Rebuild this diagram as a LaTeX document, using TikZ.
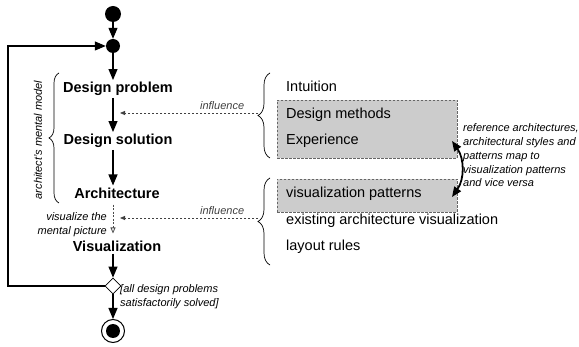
\documentclass[tikz,border=0pt]{standalone}
\usepackage{fontspec}
\setmainfont{Liberation Sans}
\usetikzlibrary{shapes,arrows,arrows.meta,positioning,fit,calc,decorations.pathreplacing}

\tikzset{
  dot/.style={circle, fill=black, inner sep=0pt, minimum size=#1},
  act/.style={font=\fontsize{14.5}{17}\selectfont\bfseries, inner sep=2pt},
  item/.style={font=\fontsize{14.5}{17}\selectfont, anchor=west, inner sep=0pt, text height=10.5pt, text depth=3pt},
  note/.style={font=\fontsize{11}{13.75}\selectfont\itshape, inner sep=0pt},
  gbox/.style={draw=black!60, fill=black!20, dash pattern=on 2.5pt off 1.5pt, line width=0.8pt},
  flow/.style={-{Triangle[length=11pt,width=9pt]}, line width=1.1pt},
  visflow/.style={-{Triangle[open,length=6pt,width=5pt]}, dash pattern=on 2pt off 1.5pt, black!70, line width=0.8pt, shorten <=4pt, shorten >=5pt},
  infl/.style={-{Triangle[length=5pt,width=4pt]}, dash pattern=on 2.5pt off 1.5pt, black!75, line width=0.8pt},
  map/.style={{Triangle[length=10pt,width=8pt]}-{Triangle[length=10pt,width=8pt]}, line width=1.8pt},
  curly/.style={decorate, decoration={brace, amplitude=#1}, line width=0.7pt}
}

\begin{document}
\begin{tikzpicture}[x=1pt, y=-1pt]
  \useasboundingbox (0,0) rectangle (579,347);

  % activity flow
  \node[dot=16pt] (start) at (113,14) {};
  \node[dot=14pt] (merge) at (113,46) {};
  \node[act] (prob) at (118,89) {Design problem};
  \node[act] (sol) at (118,141) {Design solution};
  \node[act] (arch) at (117,193) {Architecture};
  \node[act] (vis) at (117,246) {Visualization};
  \node[diamond, draw, fill=white, inner sep=0pt, minimum size=16pt, line width=0.8pt] (dec) at (113,286) {};
  \node[circle, draw, line width=1pt, minimum size=23pt, inner sep=0pt] (stop) at (113,331) {};
  \node[dot=14pt] (stopin) at (stop) {};
  \coordinate (back) at (8,286);

  \draw[flow] (start) -- (merge);
  \draw[flow] (merge) -- (prob.north -| merge);
  \draw[flow] (prob.south -| merge) -- (sol.north -| merge);
  \draw[flow] (sol.south -| merge) -- (arch.north -| merge);
  \draw[visflow] (arch.south -| merge) -- (vis.north -| merge);
  \draw[flow] (vis.south -| merge) -- (dec);
  \draw[flow] (dec) -- (stop);
  \draw[flow] (dec) -- (back) |- (merge);

  % mental model
  \draw[curly=10pt] (59,203) -- (59,73);
  \node[note, rotate=90] (mental) at (38,140) {architect's mental model};
  \node[note, align=right, anchor=east] (vislab) at (107,225) {visualize the\\mental picture};
  \node[note, align=left, anchor=west] (guard) at (120,297) {[all design problems\\ satisfactorily solved]};

  % influences
  \node[gbox, minimum width=180, minimum height=58] (boxA) at (367,129) {};
  \node[gbox, minimum width=180, minimum height=33] (boxB) at (367,195.5) {};
  \node[item] (intu) at (286,88) {Intuition};
  \node[item] (meth) at (286,115) {Design methods};
  \node[item] (exper) at (286,141) {Experience};
  \node[item] (vispat) at (286,194) {visualization patterns};
  \node[item] (exist) at (286,221) {existing architecture visualization};
  \node[item] (layout) at (286,247) {layout rules};
  \draw[curly=12pt] (270,158) -- (270,73);
  \draw[curly=12pt] (270,265) -- (270,178);

  \coordinate (infA) at (258,113);
  \coordinate (infB) at (120,113);
  \coordinate (infC) at (258,218);
  \coordinate (infD) at (120,218);
  \draw[infl] (infA) -- node[note, above=3pt, pos=0.26] (inflabA) {influence} (infB);
  \draw[infl] (infC) -- node[note, above=3pt, pos=0.26] (inflabB) {influence} (infD);

  % mapping
  \coordinate (mapA) at (452,141);
  \coordinate (mapB) at (452,197);
  \draw[map] (mapA) to[bend left=35] (mapB);
  \node[note, align=left, anchor=west] (maplab) at (463,155.5) {reference architectures,\\architectural styles and\\patterns map to\\visualization patterns\\and vice versa};
\end{tikzpicture}
\end{document}
